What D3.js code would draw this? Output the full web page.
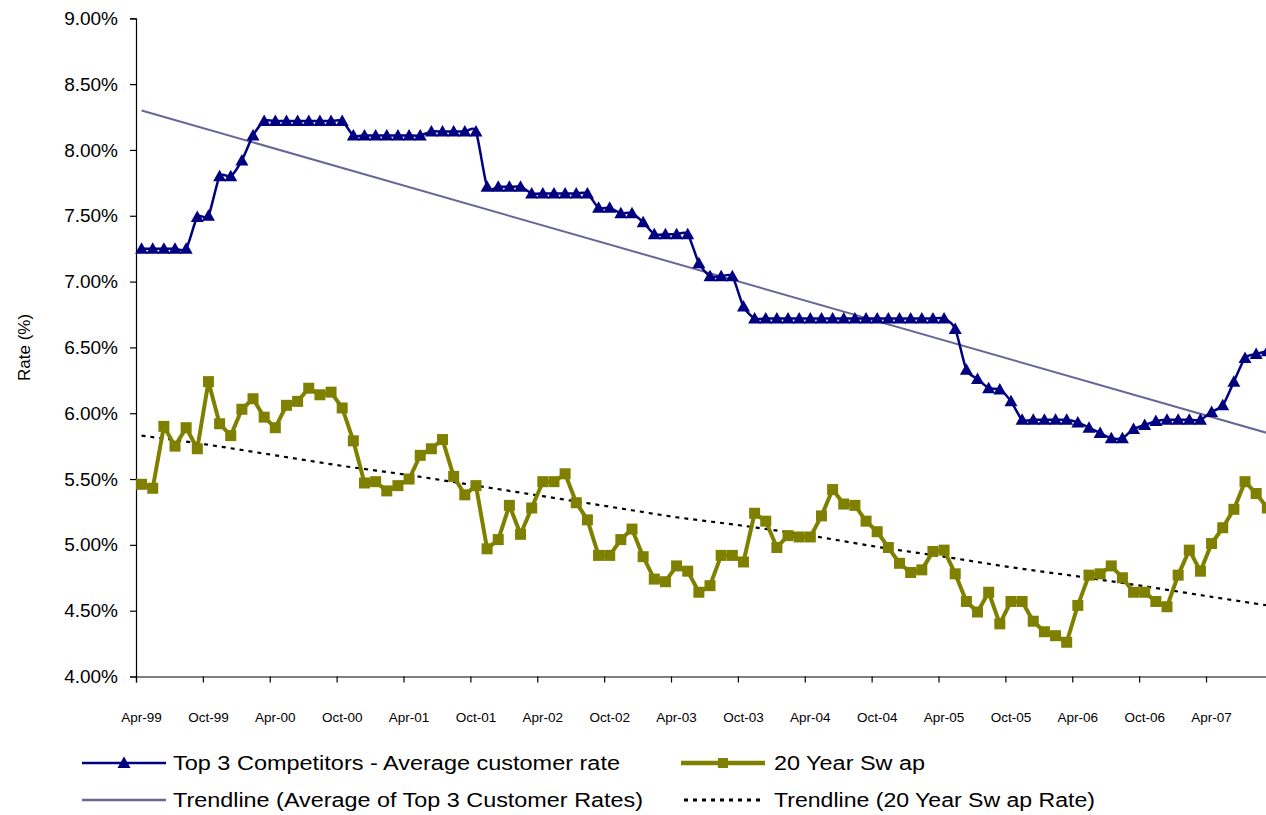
<!DOCTYPE html>
<html><head><meta charset="utf-8">
<script src="https://cdn.jsdelivr.net/npm/d3@7"></script>
<style>
body{margin:0;background:#fff}
svg text{font-family:"Liberation Sans",Arial,sans-serif;fill:#000}
</style>
</head><body>
<svg id="chart" width="1266" height="815"></svg>
<script>
// ---------- data ----------
const tickLabels = ["Apr-99","Oct-99","Apr-00","Oct-00","Apr-01","Oct-01","Apr-02","Oct-02","Apr-03","Oct-03","Apr-04","Oct-04","Apr-05","Oct-05","Apr-06","Oct-06","Apr-07"];
const competitorRate = [
 7.25,7.25,7.25,7.25,7.25,7.49,7.50,7.80,7.80,7.92,
 8.11,8.22,8.22,8.22,8.22,8.22,8.22,8.22,8.22,8.11,
 8.11,8.11,8.11,8.11,8.11,8.11,8.14,8.14,8.14,8.14,
 8.14,7.72,7.72,7.72,7.72,7.67,7.67,7.67,7.67,7.67,
 7.67,7.56,7.56,7.52,7.52,7.45,7.36,7.36,7.36,7.36,
 7.14,7.04,7.04,7.04,6.81,6.72,6.72,6.72,6.72,6.72,
 6.72,6.72,6.72,6.72,6.72,6.72,6.72,6.72,6.72,6.72,
 6.72,6.72,6.72,6.64,6.33,6.26,6.19,6.18,6.09,5.95,
 5.95,5.95,5.95,5.95,5.93,5.89,5.85,5.81,5.81,5.88,
 5.91,5.94,5.95,5.95,5.95,5.95,6.01,6.06,6.24,6.42,
 6.45,6.47];
const swapRate = [
 5.46,5.43,5.90,5.75,5.89,5.73,6.24,5.92,5.83,6.03,
 6.11,5.97,5.89,6.06,6.09,6.19,6.14,6.16,6.04,5.79,
 5.47,5.48,5.41,5.45,5.50,5.68,5.73,5.80,5.52,5.38,
 5.45,4.97,5.04,5.30,5.08,5.28,5.48,5.48,5.54,5.32,
 5.19,4.92,4.92,5.04,5.12,4.91,4.74,4.72,4.84,4.80,
 4.64,4.69,4.92,4.92,4.87,5.24,5.18,4.98,5.07,5.06,
 5.06,5.22,5.42,5.31,5.30,5.18,5.10,4.98,4.86,4.79,
 4.81,4.95,4.96,4.78,4.57,4.49,4.64,4.40,4.57,4.57,
 4.42,4.34,4.31,4.26,4.54,4.77,4.78,4.84,4.75,4.64,
 4.64,4.57,4.53,4.77,4.96,4.80,5.01,5.13,5.27,5.48,
 5.39,5.28];
const competitorTrendIdx = [0, 101];
const competitorTrend = [8.30, 5.85];
const swapTrendIdx = [0,6,12,18,24,30,36,42,48,54,60,66,72,78,84,90,96,101];
const swapTrend = [5.83,5.76,5.68,5.60,5.53,5.45,5.37,5.29,5.21,5.145,5.07,4.985,4.91,4.83,4.76,4.685,4.605,4.54];
const yTicks = [4.0,4.5,5.0,5.5,6.0,6.5,7.0,7.5,8.0,8.5,9.0];
const legendLabels = ["Top 3 Competitors - Average customer rate","20 Year Sw ap","Trendline (Average of Top 3 Customer Rates)","Trendline (20 Year Sw ap Rate)"];

// ---------- layout ----------
const svg = d3.select("#chart");
const N = competitorRate.length;
const left = 136, catW = 11.146;
const xB = d3.scaleLinear().domain([0, N]).range([left, left + N*catW]);   // category boundaries
const cx = i => xB(i + 0.5);                                            // category centres
const y = d3.scaleLinear().domain([4, 9]).range([676.5, 18.3]);

const NAVY = "#000080", OLIVE = "#808000", TREND = "#666699";

// y axis
const yAxis = svg.append("g").attr("transform", `translate(${left},0)`)
  .call(d3.axisLeft(y).tickValues(yTicks).tickSize(6).tickPadding(12).tickFormat(d => d.toFixed(2) + "%"));
yAxis.select(".domain").attr("stroke", "#000").attr("stroke-width", 1.2);
yAxis.selectAll(".tick line").attr("stroke", "#000").attr("stroke-width", 1.2);
yAxis.selectAll(".tick text").attr("font-size", 19).attr("font-family", "Liberation Sans, Arial, sans-serif").attr("fill", "#000");

// x axis
const tickIdx = tickLabels.map((d, k) => k * 6);
const xAxis = svg.append("g").attr("transform", `translate(0,${y(4)})`)
  .call(d3.axisBottom(xB).tickValues(tickIdx).tickSize(6).tickFormat(""));
xAxis.select(".domain").attr("stroke", "#000").attr("stroke-width", 1.2);
xAxis.selectAll(".tick line").attr("stroke", "#000").attr("stroke-width", 1.2);
svg.append("g").selectAll("text").data(tickLabels).join("text")
  .attr("x", (d, k) => cx(tickIdx[k])).attr("y", 722)
  .attr("text-anchor", "middle").attr("font-size", 13.5).text(d => d);

// y title
svg.append("text").attr("transform", `translate(30,${(y(4)+y(9))/2}) rotate(-90)`)
  .attr("text-anchor", "middle").attr("font-size", 17).text("Rate (%)");

// trendline (competitors)
svg.append("path")
  .datum(competitorTrendIdx.map((d, k) => [d, competitorTrend[k]]))
  .attr("fill", "none").attr("stroke", TREND).attr("stroke-width", 2)
  .attr("d", d3.line().x(d => cx(d[0])).y(d => y(d[1])));

// trendline (swap)
svg.append("path")
  .datum(swapTrendIdx.map((d, k) => [d, swapTrend[k]]))
  .attr("fill", "none").attr("stroke", "#000").attr("stroke-width", 2.2)
  .attr("stroke-dasharray", "4 5")
  .attr("d", d3.line().curve(d3.curveCatmullRom).x(d => cx(d[0])).y(d => y(d[1])));

// swap series
svg.append("path").datum(swapRate)
  .attr("fill", "none").attr("stroke", OLIVE).attr("stroke-width", 4).attr("stroke-linejoin", "round")
  .attr("d", d3.line().x((d, i) => cx(i)).y(d => y(d)));
svg.append("g").selectAll("rect").data(swapRate).join("rect")
  .attr("x", (d, i) => cx(i) - 5.5).attr("y", d => y(d) - 5.5)
  .attr("width", 11).attr("height", 11).attr("fill", OLIVE);

// competitor series (smoothed)
svg.append("path").datum(competitorRate)
  .attr("fill", "none").attr("stroke", NAVY).attr("stroke-width", 2.5)
  .attr("d", d3.line().curve(d3.curveCardinal.tension(0.3)).x((d, i) => cx(i)).y(d => y(d)));
const tri = "M0,-6.5L6.5,5L-6.5,5Z";
svg.append("g").selectAll("path").data(competitorRate).join("path")
  .attr("d", tri).attr("fill", NAVY)
  .attr("transform", (d, i) => `translate(${cx(i)},${y(d)})`);

// legend
const lg = svg.append("g");
const rows = [
  {x1: 82, x2: 166, yy: 763, t: legendLabels[0], tx: 173, w: 447, kind: "tri"},
  {x1: 681, x2: 765, yy: 763, t: legendLabels[1], tx: 774, w: 151, kind: "sq"},
  {x1: 82, x2: 166, yy: 800, t: legendLabels[2], tx: 173, w: 470, kind: "trend"},
  {x1: 684, x2: 765, yy: 800, t: legendLabels[3], tx: 774, w: 321, kind: "dot"}
];
rows.forEach(r => {
  const ln = lg.append("line").attr("x1", r.x1).attr("x2", r.x2).attr("y1", r.yy).attr("y2", r.yy);
  const mid = (r.x1 + r.x2) / 2;
  if (r.kind === "tri") {
    ln.attr("stroke", NAVY).attr("stroke-width", 2.5);
    lg.append("path").attr("d", tri).attr("fill", NAVY).attr("transform", `translate(${mid},${r.yy})`);
  } else if (r.kind === "sq") {
    ln.attr("stroke", OLIVE).attr("stroke-width", 4.5);
    lg.append("rect").attr("x", mid - 5).attr("y", r.yy - 5).attr("width", 10).attr("height", 10).attr("fill", OLIVE);
  } else if (r.kind === "trend") {
    ln.attr("stroke", TREND).attr("stroke-width", 2.5);
  } else {
    ln.attr("stroke", "#000").attr("stroke-width", 3).attr("stroke-dasharray", "4 5");
  }
  lg.append("text").attr("x", r.tx).attr("y", r.yy).attr("dy", "0.35em")
    .attr("font-size", 20).attr("textLength", r.w).attr("lengthAdjust", "spacingAndGlyphs").text(r.t);
});
</script>
</body></html>
